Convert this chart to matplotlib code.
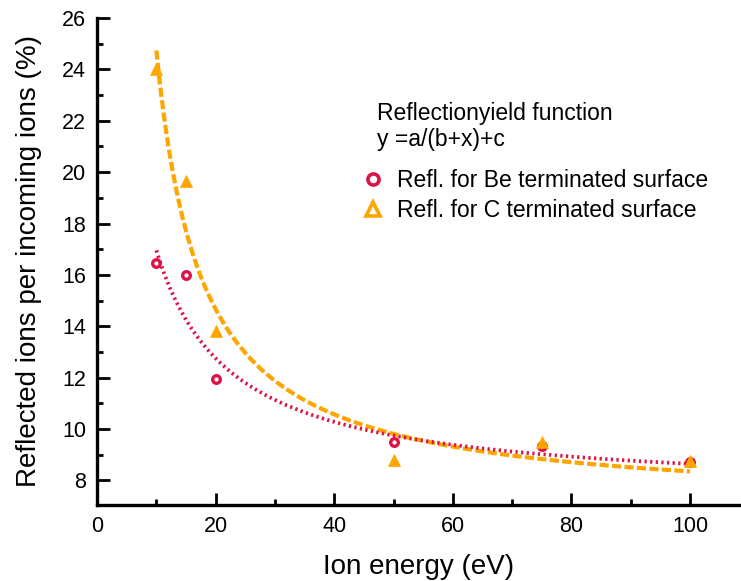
import matplotlib
matplotlib.use("Agg")
import matplotlib.pyplot as plt
from matplotlib.lines import Line2D
import numpy as np

plt.rcParams['font.family'] = ['Liberation Sans', 'DejaVu Sans']

# measured reflection yields
energy = [10, 15, 20, 50, 75, 100]  # [eV]
refl_be = [16.45, 16.0, 11.95, 9.5, 9.35, 8.72]  # [%]
refl_c = [24.0, 19.65, 13.8, 8.8, 9.5, 8.75]  # [%]

# fit parameters for y = a/(b+x)+c
fit_be = [118.7, 2.54, 7.49]
fit_c = [136.0, -2.35, 6.96]
fit_range = [10, 100]

col_be = "#DC1446"
col_c = "#FFA500"


def yield_func(x, p):
    return p[0] / (p[1] + x) + p[2]


fig = plt.figure(figsize=(7.41, 5.81), dpi=100)
ax = fig.add_axes([0.131, 0.131, 0.869, 0.838])

xf = np.linspace(fit_range[0], fit_range[1], 300)
ax.plot(xf, yield_func(xf, fit_c), color=col_c, lw=3, ls=(0, (2.2, 0.8)))
ax.plot(xf, yield_func(xf, fit_be), color=col_be, lw=2.7, ls=(0, (0.6, 0.9)))

ax.plot(energy, refl_be, "o", ms=5.5, mfc="none", mec=col_be, mew=2.4)
ax.plot(energy, refl_c, "^", ms=8, mfc=col_c, mec=col_c, mew=0.5)

ax.set_xlim(0, 108.6)
ax.set_ylim(7.05, 26)
ax.set_xticks(np.arange(0, 101, 20))
ax.set_xticks(np.arange(10, 101, 20), minor=True)
ax.set_yticks(np.arange(8, 27, 2))
ax.set_yticks(np.arange(9, 26, 2), minor=True)

for s in ["top", "right"]:
    ax.spines[s].set_visible(False)
for s in ["left", "bottom"]:
    ax.spines[s].set_linewidth(2.4)

ax.tick_params(which="major", direction="in", length=9, width=2,
               labelsize=15.5, pad=8)
ax.tick_params(which="minor", direction="in", length=4.5, width=2)

ax.set_xlabel("Ion energy (eV)", fontsize=20, labelpad=12)
ax.set_ylabel("Reflected ions per incoming ions (%)", fontsize=20,
              labelpad=14)

ax.text(0.435, 0.777, "Reflectionyield function\ny =a/(b+x)+c",
        transform=ax.transAxes, fontsize=16.5, va="center", linespacing=1.15)

handles = [
    Line2D([], [], ls="none", marker="o", ms=8, mfc="none", mec=col_be,
           mew=2.6),
    Line2D([], [], ls="none", marker="^", ms=10, mfc="none", mec=col_c,
           mew=2.6),
]
labels = ["Refl. for Be terminated surface", "Refl. for C terminated surface"]
ax.legend(handles, labels, loc="upper left", bbox_to_anchor=(0.411, 0.69),
          frameon=False, fontsize=16.5, handlelength=1.0, handletextpad=0.55,
          labelspacing=0.3, borderpad=0, borderaxespad=0)

fig.savefig("out.png", dpi=100)
